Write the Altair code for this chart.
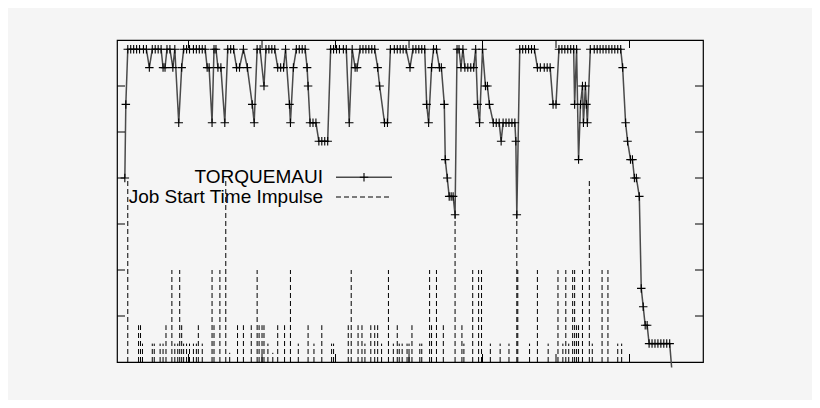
import altair as alt
import pandas as pd

# (time, busy nodes)
points = [
    (10, 20), (11, 28), (13, 34), (16, 34), (19, 34), (22, 34), (25, 34), (29, 34), (32, 34),
    (35, 32), (38, 34), (41, 34), (44, 34), (47, 34), (49, 32), (51, 32), (53, 34), (56, 34),
    (59, 32), (61, 34), (65, 26), (68, 32), (70, 34), (73, 34), (76, 34), (80, 34), (83, 34),
    (86, 34), (89, 34), (92, 34), (94, 32), (96, 32), (99, 26), (101, 34), (103, 34), (105, 32),
    (108, 32), (112, 26), (115, 34), (118, 34), (121, 34), (124, 32), (127, 32), (131, 34),
    (135, 32), (140, 28), (142, 26), (145, 34), (148, 34), (152, 30), (154, 34), (157, 34),
    (160, 34), (163, 34), (166, 32), (169, 32), (172, 32), (174, 34), (178, 28), (179, 26),
    (182, 32), (185, 34), (188, 34), (191, 34), (194, 34), (196, 32), (197, 30), (199, 26),
    (202, 26), (205, 26), (208, 24), (211, 24), (214, 24), (217, 24), (220, 34), (223, 34),
    (226, 34), (229, 34), (233, 34), (236, 34), (239, 26), (242, 34), (245, 32), (247, 32),
    (250, 34), (253, 34), (256, 34), (259, 34), (262, 34), (265, 34), (268, 32), (270, 30),
    (275, 26), (278, 26), (281, 34), (285, 34), (288, 34), (291, 34), (294, 34), (297, 34),
    (301, 32), (304, 34), (307, 34), (310, 34), (313, 34), (316, 34), (318, 28), (320, 26),
    (323, 32), (325, 34), (328, 34), (331, 32), (333, 32), (336, 28), (337, 22), (339, 20),
    (341, 18), (343, 18), (345, 18), (347, 16), (349, 34), (351, 34), (353, 32), (355, 34),
    (357, 32), (360, 32), (363, 32), (366, 32), (368, 34), (370, 28), (372, 26), (375, 34),
    (378, 30), (380, 30), (382, 28), (386, 26), (389, 26), (392, 26), (394, 24), (396, 26),
    (399, 26), (402, 26), (405, 26), (408, 26), (409, 24), (410, 16), (413, 34), (416, 34),
    (419, 34), (422, 34), (425, 34), (428, 34), (431, 32), (434, 32), (438, 32), (441, 32),
    (444, 32), (447, 28), (450, 28), (453, 34), (456, 34), (459, 34), (462, 34), (465, 34),
    (468, 34), (469, 28), (471, 34), (473, 22), (475, 28), (477, 30), (478, 26), (480, 30),
    (481, 28), (482, 26), (485, 34), (489, 34), (492, 34), (495, 34), (498, 34), (501, 34),
    (504, 34), (507, 34), (510, 34), (513, 34), (516, 34), (518, 32), (521, 26), (523, 24),
    (526, 22), (528, 22), (530, 20), (532, 20), (535, 18), (537, 8), (539, 6), (541, 4),
    (543, 4), (545, 2), (548, 2), (551, 2), (554, 2), (557, 2), (560, 2), (563, 2), (566, 2),
    (568, -0.6),
]

# (time, nodes requested) of each job start impulse
impulses = [
    (13, 20), (24, 4), (26, 4), (28, 2), (38, 2), (40, 2), (46, 2), (49, 2), (52, 4), (58, 10),
    (61, 2), (64, 2), (66, 10), (68, 4), (70, 2), (73, 2), (76, 2), (80, 2), (83, 2), (85, 4),
    (89, 2), (99, 10), (101, 4), (107, 10), (113, 20), (117, 1), (125, 4), (131, 4), (139, 4),
    (145, 10), (147, 4), (150, 4), (152, 4), (156, 2), (161, 1), (166, 4), (173, 4), (179, 10),
    (187, 2), (197, 4), (203, 2), (211, 4), (221, 2), (223, 2), (238, 4), (241, 10), (248, 4),
    (252, 4), (255, 2), (261, 4), (265, 4), (268, 4), (272, 2), (279, 10), (284, 2), (288, 4),
    (290, 2), (293, 2), (298, 2), (300, 2), (303, 4), (311, 2), (313, 2), (321, 10), (323, 4),
    (328, 10), (335, 4), (347, 16), (354, 4), (356, 2), (365, 10), (371, 10), (374, 10),
    (383, 2), (393, 2), (402, 2), (410, 16), (411, 10), (423, 2), (431, 10), (442, 2),
    (452, 10), (457, 2), (460, 10), (463, 2), (467, 10), (469, 10), (471, 4), (473, 4),
    (477, 10), (484, 20), (487, 2), (497, 10), (503, 10), (513, 2), (517, 2),
]

series_names = ["TORQUEMAUI", "Job Start Time Impulse"]
x_ticks = [75, 150, 225, 300, 375, 450, 525]
y_ticks = [5, 10, 15, 20, 25, 30]

W, H = 586, 322
PLUS = "M-1,0L1,0M0,-1L0,1"
FONT = "Liberation Sans"

df_line = pd.DataFrame(points, columns=["t", "busy"])
df_imp = pd.DataFrame(impulses, columns=["t", "n"])
df_imp["base"] = 0
df_xt = pd.DataFrame({"t": x_ticks})
df_yt = pd.DataFrame({"v": y_ticks})
dummy = pd.DataFrame({"k": [0]})

xs = alt.Scale(domain=[2, 600], nice=False, zero=False)
ys = alt.Scale(domain=[0, 35], nice=False, zero=False)
X = alt.X("t:Q", scale=xs, axis=None)

imp = alt.Chart(df_imp).mark_rule(color="#000", strokeWidth=1, strokeDash=[5, 3]).encode(
    x=X, y=alt.Y("base:Q", scale=ys, axis=None), y2="n:Q"
)
line = alt.Chart(df_line).mark_line(color="#4a4a4a", strokeWidth=1.5).encode(
    x=X, y=alt.Y("busy:Q", scale=ys, axis=None)
)
pts = alt.Chart(df_line).transform_filter("datum.busy >= 0").mark_point(
    shape=PLUS, size=72, filled=False, color="#000", strokeWidth=1.1, opacity=1
).encode(x=X, y=alt.Y("busy:Q", scale=ys, axis=None))

YT = alt.Y("v:Q", scale=ys, axis=None)
left = alt.Chart(df_yt).mark_rule(color="#000").encode(y=YT, x=alt.value(0), x2=alt.value(8))
right = alt.Chart(df_yt).mark_rule(color="#000").encode(y=YT, x=alt.value(W - 8), x2=alt.value(W))
top = alt.Chart(df_xt).mark_rule(color="#000").encode(x=X, y=alt.value(0), y2=alt.value(8))
bottom = alt.Chart(df_xt).mark_rule(color="#000").encode(x=X, y=alt.value(H - 8), y2=alt.value(H))

ly1, ly2 = 137.2, 157.0
t1 = alt.Chart(pd.DataFrame({"label": [series_names[0]]})).mark_text(
    align="right", baseline="middle", font=FONT, fontSize=19, color="#000"
).encode(text="label:N", x=alt.value(206), y=alt.value(ly1))
t2 = alt.Chart(pd.DataFrame({"label": [series_names[1]]})).mark_text(
    align="right", baseline="middle", font=FONT, fontSize=19, color="#000"
).encode(text="label:N", x=alt.value(206), y=alt.value(ly2))
s1 = alt.Chart(dummy).mark_rule(color="#4a4a4a", strokeWidth=1.5).encode(
    x=alt.value(219), x2=alt.value(275), y=alt.value(ly1)
)
s1p = alt.Chart(dummy).mark_point(
    shape=PLUS, size=72, filled=False, color="#000", strokeWidth=1.1, opacity=1
).encode(x=alt.value(247), y=alt.value(ly1))
s2 = alt.Chart(dummy).mark_rule(color="#000", strokeWidth=1, strokeDash=[5, 3]).encode(
    x=alt.value(219), x2=alt.value(275), y=alt.value(ly2)
)

chart = alt.layer(
    imp, line, pts, left, right, top, bottom, t1, t2, s1, s1p, s2
).properties(
    width=W,
    height=H,
    padding={"left": 109, "top": 32, "right": 109, "bottom": 38},
    autosize="none",
    background="#f5f5f5",
).configure_view(stroke="#000", strokeWidth=1.2)

chart.save("out.html", embed_options={"renderer": "svg", "actions": False})
